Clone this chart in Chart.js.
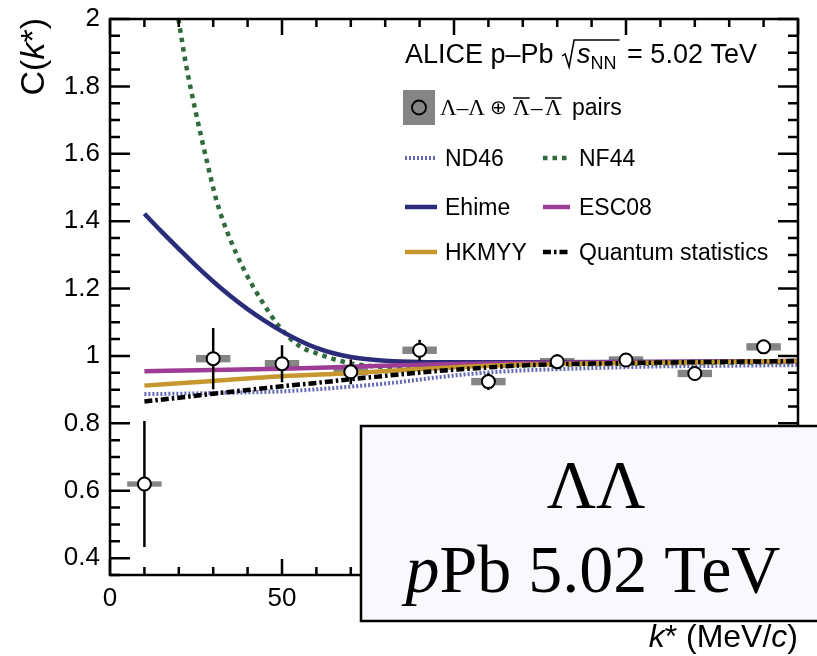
<!DOCTYPE html>
<html>
<head>
<meta charset="utf-8">
<title>Lambda-Lambda correlation</title>
<script src="https://cdn.jsdelivr.net/npm/chart.js@4.4.1/dist/chart.umd.min.js"></script>
<style>
  html, body { margin: 0; padding: 0; background: #fff; }
  canvas { display: block; }
</style>
</head>
<body>
<canvas id="chart" width="817" height="656"></canvas>
<script>
const SANS = '"Liberation Sans", Arial, Helvetica, sans-serif';
const SERIF = '"Liberation Serif", "Times New Roman", "DejaVu Serif", serif';

// measured correlation function
const kStar = [10, 30, 50, 70, 90, 110, 130, 150, 170, 190];
const cData = [0.62, 0.992, 0.977, 0.953, 1.017, 0.924, 0.983, 0.988, 0.948, 1.027];
const statErr = [0.187, 0.091, 0.055, 0.037, 0.031, 0.025, 0.022, 0.016, 0.015, 0.015];
const sysErr = [0.008, 0.011, 0.011, 0.011, 0.011, 0.011, 0.011, 0.011, 0.011, 0.011];
const binHalf = 5;

// model curves
const nd46X = [10, 20, 30, 40, 50, 60, 70, 80, 90, 100, 110, 120, 140, 160, 180, 200];
const nd46Y = [0.887, 0.888, 0.890, 0.892, 0.895, 0.901, 0.909, 0.918, 0.930, 0.942, 0.951, 0.957, 0.964, 0.969, 0.971, 0.973];
const nf44X = [19.9, 22, 25, 28, 31, 34, 39, 44, 49.4, 55, 60, 67, 74, 80, 90, 100, 120, 150, 200];
const nf44Y = [2.0, 1.87, 1.72, 1.585, 1.46, 1.37, 1.255, 1.165, 1.085, 1.03, 1.008, 0.985, 0.972, 0.968, 0.967, 0.969, 0.973, 0.977, 0.982];
const ehimeX = [10, 15, 20, 25, 30, 35, 40, 45, 50, 55, 60, 65, 70, 75, 80, 90, 100, 120, 150, 200];
const ehimeY = [1.422, 1.369, 1.318, 1.268, 1.221, 1.178, 1.139, 1.104, 1.073, 1.046, 1.024, 1.008, 0.997, 0.990, 0.986, 0.982, 0.981, 0.981, 0.982, 0.985];
const esc08X = [10, 30, 50, 70, 90, 110, 130, 160, 200];
const esc08Y = [0.955, 0.958, 0.962, 0.968, 0.974, 0.978, 0.980, 0.982, 0.985];
const hkmyyX = [10, 30, 50, 70, 90, 110, 130, 160, 200];
const hkmyyY = [0.912, 0.926, 0.940, 0.949, 0.961, 0.971, 0.976, 0.980, 0.985];
const qsX = [10, 20, 30, 40, 50, 60, 70, 80, 90, 100, 110, 120, 150, 200];
const qsY = [0.865, 0.876, 0.888, 0.899, 0.910, 0.920, 0.931, 0.941, 0.951, 0.959, 0.966, 0.972, 0.979, 0.985];

const xTicks = [0, 50, 100, 150];
const yTicks = [0.4, 0.6, 0.8, 1.0, 1.2, 1.4, 1.6, 1.8, 2.0];

const models = [
  { label: "ND46", x: nd46X, y: nd46Y, color: "#6468b4", width: 4, dash: [2, 2], order: 6 },
  { label: "NF44", x: nf44X, y: nf44Y, color: "#2f6b3c", width: 4.5, dash: [4.5, 5], order: 5 },
  { label: "Ehime", x: ehimeX, y: ehimeY, color: "#2a2c7a", width: 4.5, dash: [], order: 4 },
  { label: "ESC08", x: esc08X, y: esc08Y, color: "#9c3c94", width: 4.5, dash: [], order: 3 },
  { label: "HKMYY", x: hkmyyX, y: hkmyyY, color: "#c6962f", width: 4.5, dash: [], order: 2 },
  { label: "Quantum statistics", x: qsX, y: qsY, color: "#000000", width: 4.5, dash: [8, 3, 2.5, 3], order: 1 },
];

const datasets = models.map((m) => ({
  label: m.label,
  data: m.x.map((x, i) => ({ x, y: m.y[i] })),
  borderColor: m.color,
  borderWidth: m.width,
  borderDash: m.dash,
  pointRadius: 0,
  cubicInterpolationMode: "monotone",
  fill: false,
  order: m.order,
}));

const POINTS = datasets.length;
datasets.push({
  label: "data",
  data: kStar.map((x, i) => ({ x, y: cData[i] })),
  showLine: false,
  pointRadius: 6.5,
  pointBorderWidth: 2,
  pointBackgroundColor: "#fff",
  pointBorderColor: "#000",
  order: 0,
});

function drawRich(ctx, parts, x, y) {
  for (const p of parts) {
    ctx.font = p.font;
    ctx.fillText(p.t, x, y + (p.dy || 0));
    x += ctx.measureText(p.t).width;
  }
  return x;
}

function richWidth(ctx, parts) {
  let w = 0;
  for (const p of parts) {
    ctx.font = p.font;
    w += ctx.measureText(p.t).width;
  }
  return w;
}

function lineSample(ctx, ds, x0, x1, y) {
  ctx.save();
  ctx.strokeStyle = ds.borderColor;
  ctx.lineWidth = ds.borderWidth;
  ctx.setLineDash(ds.borderDash || []);
  ctx.beginPath();
  ctx.moveTo(x0, y);
  ctx.lineTo(x1, y);
  ctx.stroke();
  ctx.restore();
}

const rootStyle = {
  id: "rootStyle",
  beforeDatasetsDraw(chart) {
    const { ctx, scales: { x, y } } = chart;
    ctx.save();
    ctx.fillStyle = "#858585";
    kStar.forEach((k, i) => {
      const l = x.getPixelForValue(k - binHalf);
      const r = x.getPixelForValue(k + binHalf);
      const t = y.getPixelForValue(cData[i] + sysErr[i]);
      const b = y.getPixelForValue(cData[i] - sysErr[i]);
      ctx.fillRect(l, t, r - l, b - t);
    });
    ctx.restore();
  },
  beforeDatasetDraw(chart, args) {
    if (args.index !== POINTS) return;
    const { ctx, scales: { x, y } } = chart;
    ctx.save();
    ctx.strokeStyle = "#000";
    ctx.lineWidth = 2.5;
    kStar.forEach((k, i) => {
      const px = x.getPixelForValue(k);
      ctx.beginPath();
      ctx.moveTo(px, y.getPixelForValue(cData[i] + statErr[i]));
      ctx.lineTo(px, y.getPixelForValue(cData[i] - statErr[i]));
      ctx.stroke();
    });
    ctx.restore();
  },
  afterDraw(chart) {
    const { ctx, chartArea: a, scales: { x, y } } = chart;
    ctx.save();

    // frame and inward ticks
    ctx.strokeStyle = "#000";
    ctx.lineWidth = 2.5;
    ctx.strokeRect(a.left, a.top, a.right - a.left, a.bottom - a.top);
    ctx.beginPath();
    for (let i = 7; i <= 40; i++) {
      const py = y.getPixelForValue(i * 0.05);
      const len = i % 4 === 0 ? 20 : 10;
      ctx.moveTo(a.left, py); ctx.lineTo(a.left + len, py);
      ctx.moveTo(a.right, py); ctx.lineTo(a.right - len, py);
    }
    for (let v = 0; v <= 200; v += 10) {
      const px = x.getPixelForValue(v);
      const len = v % 50 === 0 ? 16 : 8;
      ctx.moveTo(px, a.bottom); ctx.lineTo(px, a.bottom - len);
      ctx.moveTo(px, a.top); ctx.lineTo(px, a.top + len);
    }
    ctx.stroke();

    // inset label box
    ctx.fillStyle = "#f8f8fe";
    ctx.fillRect(361, 426, 470, 195);
    ctx.lineWidth = 2.5;
    ctx.strokeRect(361, 426, 470, 195);
    ctx.fillStyle = "#000";
    ctx.textAlign = "center";
    ctx.textBaseline = "alphabetic";
    ctx.font = `68px ${SERIF}`;
    ctx.fillText("ΛΛ", 596, 507);
    ctx.textAlign = "left";
    const line2 = [
      { t: "p", font: `italic 68px ${SERIF}` },
      { t: "Pb 5.02 TeV", font: `68px ${SERIF}` },
    ];
    drawRich(ctx, line2, 593 - richWidth(ctx, line2) / 2, 592);

    // axis titles
    const xt = [
      { t: "k", font: `italic 32px ${SANS}` },
      { t: "* (MeV/", font: `32px ${SANS}` },
      { t: "c", font: `italic 32px ${SANS}` },
      { t: ")", font: `32px ${SANS}` },
    ];
    drawRich(ctx, xt, 798 - richWidth(ctx, xt), 647);

    ctx.save();
    ctx.translate(44, 18);
    ctx.rotate(-Math.PI / 2);
    const yt = [
      { t: "C(", font: `34px ${SANS}` },
      { t: "k", font: `italic 34px ${SANS}` },
      { t: "*)", font: `34px ${SANS}` },
    ];
    drawRich(ctx, yt, -richWidth(ctx, yt), 0);
    ctx.restore();

    // header
    let hx = drawRich(ctx, [{ t: "ALICE p–Pb ", font: `27px ${SANS}` }], 405, 63);
    const sub = [
      { t: "s", font: `italic 27px ${SANS}` },
      { t: "NN", font: `18px ${SANS}`, dy: 6 },
    ];
    const sw = richWidth(ctx, sub);
    ctx.lineWidth = 1.5;
    ctx.beginPath();
    ctx.moveTo(hx + 1, 56);
    ctx.lineTo(hx + 4, 54);
    ctx.lineTo(hx + 8, 67);
    ctx.lineTo(hx + 13, 40);
    ctx.lineTo(hx + 16 + sw + 3, 40);
    ctx.stroke();
    hx = drawRich(ctx, sub, hx + 16, 63);
    drawRich(ctx, [{ t: " = 5.02 TeV", font: `27px ${SANS}` }], hx + 3, 63);

    // data legend entry
    ctx.fillStyle = "#858585";
    ctx.fillRect(403, 90, 32, 35);
    ctx.strokeStyle = "#000";
    ctx.lineWidth = 1.8;
    ctx.beginPath();
    ctx.arc(419, 107.5, 7, 0, Math.PI * 2);
    ctx.stroke();
    ctx.fillStyle = "#000";
    ctx.font = `23px ${SERIF}`;
    ctx.fillText("Λ–Λ", 440, 115);
    const lw = ctx.measureText("Λ").width;
    ctx.fillText("Λ", 513, 115);
    ctx.fillText("–", 531, 115);
    ctx.fillText("Λ", 545, 115);
    ctx.font = `20px "DejaVu Sans", ${SERIF}`;
    ctx.fillText("⊕", 490, 114);
    ctx.lineWidth = 1.5;
    ctx.beginPath();
    ctx.moveTo(513, 98); ctx.lineTo(513 + lw, 98);
    ctx.moveTo(545, 98); ctx.lineTo(545 + lw, 98);
    ctx.stroke();
    ctx.font = `23px ${SANS}`;
    ctx.fillText("pairs", 572, 115);

    // model legend entries, two columns
    const ds = chart.data.datasets;
    const rows = [
      { y: 158, base: 166, l: 0, r: 1 },
      { y: 207, base: 215, l: 2, r: 3 },
      { y: 252, base: 260, l: 4, r: 5 },
    ];
    ctx.font = `23px ${SANS}`;
    rows.forEach((row) => {
      lineSample(ctx, ds[row.l], 405, 437, row.y);
      lineSample(ctx, ds[row.r], 543, 570, row.y);
      ctx.fillStyle = "#000";
      ctx.fillText(ds[row.l].label, 445, row.base);
      ctx.fillText(ds[row.r].label, 579, row.base);
    });

    ctx.restore();
  },
};

new Chart(document.getElementById("chart"), {
  type: "line",
  data: { datasets },
  options: {
    responsive: false,
    animation: false,
    events: [],
    layout: { padding: { top: 19, right: 19, left: 0, bottom: 0 } },
    plugins: { legend: { display: false }, tooltip: { enabled: false } },
    scales: {
      x: {
        type: "linear",
        min: 0,
        max: 200,
        afterBuildTicks: (s) => { s.ticks = xTicks.map((v) => ({ value: v })); },
        afterFit: (s) => { s.height = 81; s.paddingLeft = 0; s.paddingRight = 0; },
        ticks: {
          color: "#000",
          font: { family: SANS, size: 26 },
          padding: 8,
          maxRotation: 0,
          autoSkip: false,
          callback: (v) => String(v),
        },
        grid: { display: false, drawTicks: false },
        border: { display: false },
      },
      y: {
        type: "linear",
        min: 0.35,
        max: 2,
        afterBuildTicks: (s) => { s.ticks = yTicks.map((v) => ({ value: v })); },
        afterFit: (s) => { s.width = 110; s.paddingTop = 0; s.paddingBottom = 0; },
        ticks: {
          color: "#000",
          font: { family: SANS, size: 26 },
          padding: 10,
          autoSkip: false,
          callback: (v) => String(+Number(v).toFixed(2)),
        },
        grid: { display: false, drawTicks: false },
        border: { display: false },
      },
    },
  },
  plugins: [rootStyle],
});
</script>
</body>
</html>
